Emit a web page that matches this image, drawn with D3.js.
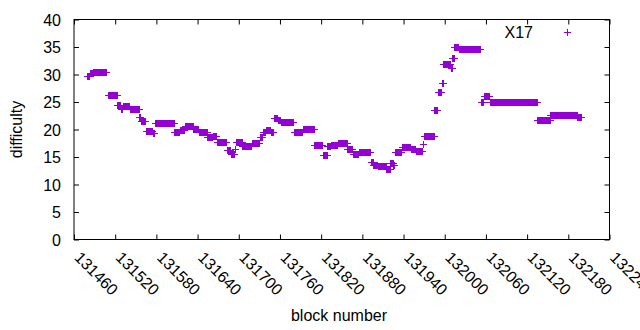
<!DOCTYPE html>
<html>
<head>
<meta charset="utf-8">
<script src="https://cdn.jsdelivr.net/npm/d3@7"></script>
<style>
  body { margin: 0; background: #fff; }
  svg { display: block; font-family: "Liberation Sans", Arial, sans-serif; }
  .axis text { font-size: 16px; fill: #000; }
  .axis .domain { display: none; }
  .axis line { stroke: #000; }
</style>
</head>
<body>
<svg width="640" height="330"></svg>
<script>
// runs of equal difficulty (first block, last block, value)
const runStart = [131479, 131483, 131488, 131509, 131523, 131528, 131531, 131541, 131555, 131557,
  131565, 131575, 131578, 131606, 131614, 131621, 131634, 131642, 131654, 131662,
  131668, 131683, 131688, 131694, 131696, 131705, 131719, 131731, 131735, 131739,
  131747, 131751, 131757, 131761, 131780, 131793, 131810, 131822, 131829, 131834,
  131844, 131858, 131866, 131875, 131892, 131896, 131903, 131915, 131921, 131925,
  131927, 131938, 131951, 131958, 131968, 131970, 131985, 131990, 131996, 131998,
  132009, 132011, 132014, 132021, 132053, 132057, 132066, 132135, 132154, 132193];
const runEnd = [131482, 131487, 131507, 131522, 131527, 131530, 131540, 131554, 131556, 131564,
  131574, 131577, 131605, 131613, 131620, 131633, 131641, 131653, 131661, 131667,
  131682, 131687, 131693, 131695, 131704, 131718, 131730, 131734, 131738, 131746,
  131750, 131756, 131760, 131779, 131792, 131809, 131821, 131828, 131833, 131843,
  131857, 131865, 131874, 131891, 131895, 131902, 131914, 131920, 131924, 131926,
  131937, 131950, 131957, 131967, 131969, 131984, 131989, 131995, 131997, 132008,
  132010, 132013, 132020, 132052, 132056, 132065, 132134, 132153, 132192, 132199];
const runValue = [29.8, 30.2, 30.5, 26.3, 24.5, 23.7, 24.3, 23.8, 22.3, 21.6,
  19.8, 19.4, 21.2, 19.5, 19.9, 20.7, 20.1, 19.6, 18.7, 18.9,
  17.8, 16.2, 15.6, 16.4, 17.8, 17.0, 17.6, 18.7, 19.5, 19.9,
  19.6, 22.1, 21.7, 21.4, 19.6, 20.1, 17.2, 15.4, 17.0, 17.2,
  17.6, 16.4, 15.6, 15.9, 14.1, 13.5, 13.4, 12.8, 14.0, 13.6,
  15.9, 16.8, 16.4, 16.1, 17.3, 18.9, 23.6, 26.8, 28.5, 31.9,
  31.2, 33.0, 35.0, 34.7, 25.0, 26.0, 25.0, 21.8, 22.7, 22.2];

const xTicks = [131460, 131520, 131580, 131640, 131700, 131760, 131820,
  131880, 131940, 132000, 132060, 132120, 132180, 132240];
const yTicks = [0, 5, 10, 15, 20, 25, 30, 35, 40];
const seriesName = 'X17';

// one point per block
const points = [];
runStart.forEach((s, i) => {
  for (let b = s; b <= runEnd[i]; b++) points.push({ block: b, diff: runValue[i] });
});

const svg = d3.select('svg');
const plotL = 74, plotR = 609.5, plotT = 19.5, plotB = 239.5;

const x = d3.scaleLinear().domain([131460, 132240]).range([plotL, plotR]);
const y = d3.scaleLinear().domain([0, 40]).range([plotB, plotT]);

const color = '#9400d3';
const plus = 'M-3.5,0H3.5M0,-3.5V3.5';

// left axis + mirrored right ticks
svg.append('g')
  .attr('class', 'axis')
  .attr('transform', `translate(${plotL},0)`)
  .call(d3.axisLeft(y).tickValues(yTicks).tickSize(-5).tickPadding(13))
  .selectAll('text').attr('dy', '0.35em');

svg.append('g')
  .attr('class', 'axis')
  .attr('transform', `translate(${plotR},0)`)
  .call(d3.axisRight(y).tickValues(yTicks).tickSize(-5).tickFormat(''));

// bottom axis with rotated labels + mirrored top ticks
const xAxisG = svg.append('g')
  .attr('class', 'axis')
  .attr('transform', `translate(0,${plotB})`)
  .call(d3.axisBottom(x).tickValues(xTicks).tickSize(-5).tickFormat(d3.format('d')));
xAxisG.selectAll('text')
  .attr('text-anchor', 'start')
  .attr('dy', null)
  .attr('y', 0)
  .attr('transform', 'translate(-1,19) rotate(45)');

svg.append('g')
  .attr('class', 'axis')
  .attr('transform', `translate(0,${plotT})`)
  .call(d3.axisTop(x).tickValues(xTicks).tickSize(-5).tickFormat(''));

svg.append('rect')
  .attr('x', plotL).attr('y', plotT)
  .attr('width', plotR - plotL).attr('height', plotB - plotT)
  .attr('fill', 'none').attr('stroke', '#000');

// points
svg.append('g')
  .attr('shape-rendering', 'crispEdges')
  .selectAll('path').data(points)
  .enter().append('path')
  .attr('transform', d => `translate(${Math.round(x(d.block)) + 0.5},${Math.round(y(d.diff)) + 0.5})`)
  .attr('d', plus)
  .attr('stroke', color)
  .attr('fill', 'none');

// legend
svg.append('text')
  .attr('x', 533).attr('y', 32)
  .attr('dy', '0.35em')
  .attr('text-anchor', 'end')
  .style('font-size', '16px')
  .text(seriesName);
svg.append('path')
  .attr('shape-rendering', 'crispEdges')
  .attr('transform', 'translate(567.5,32.5)')
  .attr('d', plus)
  .attr('stroke', color)
  .attr('fill', 'none');

// axis titles
svg.append('text')
  .attr('transform', `translate(22,${(plotT + plotB) / 2}) rotate(-90)`)
  .attr('text-anchor', 'middle')
  .style('font-size', '16px')
  .text('difficulty');

svg.append('text')
  .attr('x', 339).attr('y', 321)
  .attr('text-anchor', 'middle')
  .style('font-size', '16px')
  .text('block number');
</script>
</body>
</html>
